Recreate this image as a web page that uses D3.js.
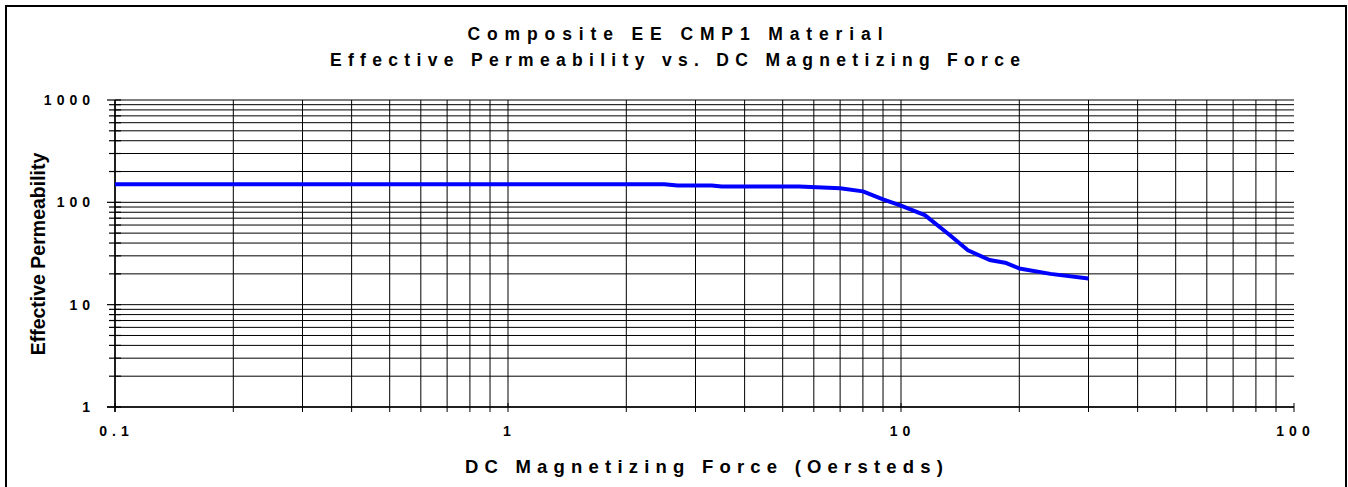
<!DOCTYPE html>
<html>
<head>
<meta charset="utf-8">
<script src="https://cdn.jsdelivr.net/npm/d3@7"></script>
<style>
  html, body { margin: 0; padding: 0; background: #fff; }
  svg { display: block; font-family: "Liberation Sans", Arial, sans-serif; }
</style>
</head>
<body>
<svg id="chart" width="1348" height="487"></svg>
<script>
// ---- data ----
const titleLines = ["Composite EE CMP1 Material", "Effective Permeability vs. DC  Magnetizing Force"];
const xTitle = "DC Magnetizing Force (Oersteds)";
const yTitle = "Effective Permeability";
const xTickValues = [0.1, 1, 10, 100];
const xTickLabels = ["0.1", "1", "10", "100"];
const yTickValues = [1, 10, 100, 1000];
const yTickLabels = ["1", "10", "100", "1000"];
const forceOe = [0.1, 2.5, 2.7, 3.3, 3.5, 5.5, 7, 8, 9, 10, 11.5, 13.3, 14.8, 16.8, 18.4, 20, 24, 30];
const permeability = [150, 150, 146, 146, 143, 143, 137, 128, 107, 93, 75, 48, 34, 27.3, 25.7, 22.6, 20, 18];

// ---- layout ----
const svg = d3.select("#chart");
const x = d3.scaleLog().domain([0.1, 100]).range([115, 1294]);
const y = d3.scaleLog().domain([1, 1000]).range([407, 100]);

// frame
svg.append("rect").attr("x", 6).attr("y", 6).attr("width", 1340).attr("height", 492)
  .attr("fill", "none").attr("stroke", "#000").attr("stroke-width", 2);

// grid values (1..9 per decade)
const xGrid = [];
for (let d = 0.1; d < 100; d *= 10) for (let k = 1; k <= 9; k++) xGrid.push(+(d * k).toPrecision(3));
const yGrid = [];
for (let d = 1; d < 1000; d *= 10) for (let k = 1; k <= 9; k++) yGrid.push(+(d * k).toPrecision(3));
yGrid.push(1000);

const g = svg.append("g");
// horizontal grid
g.selectAll("line.hg").data(yGrid).enter().append("line")
  .attr("x1", 115).attr("x2", 1294)
  .attr("y1", d => y(d)).attr("y2", d => y(d))
  .attr("stroke", "#000").attr("stroke-width", 1);
// vertical grid
g.selectAll("line.vg").data(xGrid).enter().append("line")
  .attr("x1", d => x(d)).attr("x2", d => x(d))
  .attr("y1", 100).attr("y2", 407)
  .attr("stroke", "#000").attr("stroke-width", 1);

// y-axis ticks
const isMajor = v => Math.abs(Math.log10(v) - Math.round(Math.log10(v))) < 1e-6;
g.selectAll("line.yt").data(yGrid).enter().append("line")
  .attr("x1", d => isMajor(d) ? 107 : 109).attr("x2", 121)
  .attr("y1", d => y(d)).attr("y2", d => y(d))
  .attr("stroke", "#000").attr("stroke-width", 1.2);
// x-axis ticks
g.selectAll("line.xt").data(xGrid.concat([100])).enter().append("line")
  .attr("x1", d => x(d)).attr("x2", d => x(d))
  .attr("y1", d => isMajor(d) ? 403 : 407).attr("y2", 412)
  .attr("stroke", "#000").attr("stroke-width", 1);
// axis lines
g.append("line").attr("x1", 115).attr("x2", 115).attr("y1", 100).attr("y2", 412)
  .attr("stroke", "#000").attr("stroke-width", 1.5);
g.append("line").attr("x1", 107).attr("x2", 1294).attr("y1", 407).attr("y2", 407)
  .attr("stroke", "#000").attr("stroke-width", 1.5);

// curve
const pts = forceOe.map((f, i) => [f, permeability[i]]);
svg.append("path").datum(pts)
  .attr("d", d3.line().x(d => x(d[0])).y(d => y(d[1])))
  .attr("fill", "none").attr("stroke", "#0000FF").attr("stroke-width", 4)
  .attr("stroke-linejoin", "round");

// tick labels
const tickLS = 5;
svg.selectAll("text.yl").data(yTickValues).enter().append("text")
  .attr("x", 90 + tickLS).attr("y", d => y(d) + 5)
  .attr("text-anchor", "end").attr("font-size", 14).attr("font-weight", "bold")
  .attr("letter-spacing", tickLS)
  .text((d, i) => yTickLabels[i]);
svg.selectAll("text.xl").data(xTickValues).enter().append("text")
  .attr("x", d => x(d) + tickLS / 2 - 1).attr("y", 436)
  .attr("text-anchor", "middle").attr("font-size", 14).attr("font-weight", "bold")
  .attr("letter-spacing", tickLS)
  .text((d, i) => xTickLabels[i]);

// titles
const titleY = [40, 66];
const titleLen = [415, 690];
titleLines.forEach((t, i) => {
  svg.append("text").attr("x", 675).attr("y", titleY[i])
    .attr("text-anchor", "middle").attr("font-size", 17.5).attr("font-weight", "bold")
    .attr("textLength", titleLen[i]).attr("lengthAdjust", "spacing")
    .text(t);
});
svg.append("text").attr("x", 704).attr("y", 473)
  .attr("text-anchor", "middle").attr("font-size", 18.5).attr("font-weight", "bold")
  .attr("textLength", 478).attr("lengthAdjust", "spacing")
  .text(xTitle);
svg.append("text").attr("transform", "translate(45,254) rotate(-90)")
  .attr("text-anchor", "middle").attr("font-size", 19.5).attr("font-weight", "bold")
  .text(yTitle);
</script>
</body>
</html>
